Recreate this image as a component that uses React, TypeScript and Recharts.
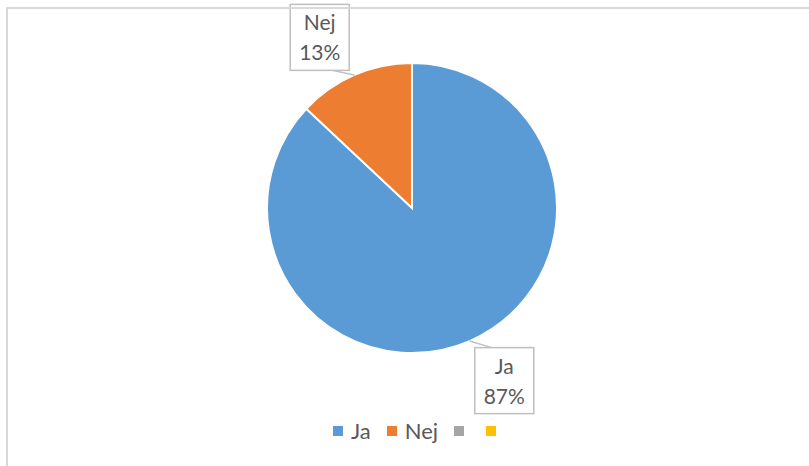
import { Legend, Pie, PieChart, Cell } from 'recharts';

const categories = ['Ja', 'Nej', '', ''];
const values = [87, 13, 0, 0];
const colors = ['#5B9BD5', '#ED7D31', '#A5A5A5', '#FFC000'];

const FONT = 'Lato, "Open Sans", sans-serif';
const TEXT = '#595959';

const data = categories
  .map((name, i) => ({ name, value: values[i], color: colors[i] }))
  .filter((d) => d.value > 0);

const BOX_W = 59;
const BOX_H = 66;

// Excel-style callout: a boxed label with a leader line back to the slice edge
function renderCallout(props: any) {
  const { cx, cy, outerRadius, midAngle, percent, name } = props;
  const rad = (-midAngle * Math.PI) / 180;
  const cos = Math.cos(rad);
  const sin = Math.sin(rad);
  const ex = cx + outerRadius * cos;
  const ey = cy + outerRadius * sin;
  const bx = cx + (outerRadius + 42) * cos + (cos >= 0 ? 18 : -18);
  const by = cy + (outerRadius + 42) * sin + 1;
  const left = bx - BOX_W / 2;
  const top = by - BOX_H / 2;
  // attach the leader to the nearest side of the box
  let lx: number;
  let ly: number;
  if (ey < top) {
    lx = Math.min(Math.max(ex + 22, left), left + BOX_W);
    ly = top;
  } else if (ey > top + BOX_H) {
    lx = Math.min(Math.max(ex - 22, left), left + BOX_W);
    ly = top + BOX_H;
  } else {
    lx = ex < left ? left : left + BOX_W;
    ly = by + 6;
  }
  return (
    <g>
      <line x1={ex} y1={ey} x2={lx} y2={ly} stroke="#BFBFBF" strokeWidth={1.5} />
      <rect
        x={left}
        y={top}
        width={BOX_W}
        height={BOX_H}
        fill="#fff"
        stroke="#BFBFBF"
        strokeWidth={1.5}
      />
      <text x={bx} y={by - 7} textAnchor="middle" fill={TEXT} fontSize={21} fontFamily={FONT}>
        {name}
      </text>
      <text x={bx} y={by + 23} textAnchor="middle" fill={TEXT} fontSize={21} fontFamily={FONT}>
        {`${Math.round(percent * 100)}%`}
      </text>
    </g>
  );
}

function LegendContent() {
  return (
    <div
      style={{
        display: 'flex',
        justifyContent: 'center',
        alignItems: 'center',
        fontFamily: FONT,
        fontSize: 22,
        lineHeight: '24px',
        color: TEXT,
        paddingLeft: 42,
      }}
    >
      {categories.map((c, i) => (
        <span
          key={i}
          style={{ display: 'flex', alignItems: 'center', marginRight: c ? 16 : 22 }}
        >
          <span
            style={{
              width: 10,
              height: 10,
              backgroundColor: colors[i],
              display: 'inline-block',
              marginRight: c ? 8 : 0,
            }}
          />
          {c}
        </span>
      ))}
    </div>
  );
}

export default function App() {
  return (
    <div
      style={{
        position: 'fixed',
        left: 0,
        top: 0,
        width: 809,
        height: 466,
        background: '#fff',
        overflow: 'hidden',
      }}
    >
      <PieChart
        width={809}
        height={466}
        margin={{ top: 0, right: 0, bottom: 0, left: 0 }}
      >
        <Pie
          data={data}
          dataKey="value"
          nameKey="name"
          cx={412}
          cy={208}
          outerRadius={145}
          startAngle={90}
          endAngle={-270}
          stroke="#fff"
          strokeWidth={2}
          label={renderCallout}
          labelLine={false}
          isAnimationActive={false}
        >
          {data.map((d) => (
            <Cell key={d.name} fill={d.color} />
          ))}
        </Pie>
        <Legend
          content={<LegendContent />}
          wrapperStyle={{ position: 'absolute', top: 419, left: 0, width: 809 }}
        />
      </PieChart>
      <div
        style={{
          position: 'absolute',
          left: 6,
          top: 7,
          width: 820,
          height: 480,
          borderTop: '2px solid #D9D9D9',
          borderLeft: '2px solid #D9D9D9',
          pointerEvents: 'none',
          zIndex: 2,
        }}
      />
    </div>
  );
}
